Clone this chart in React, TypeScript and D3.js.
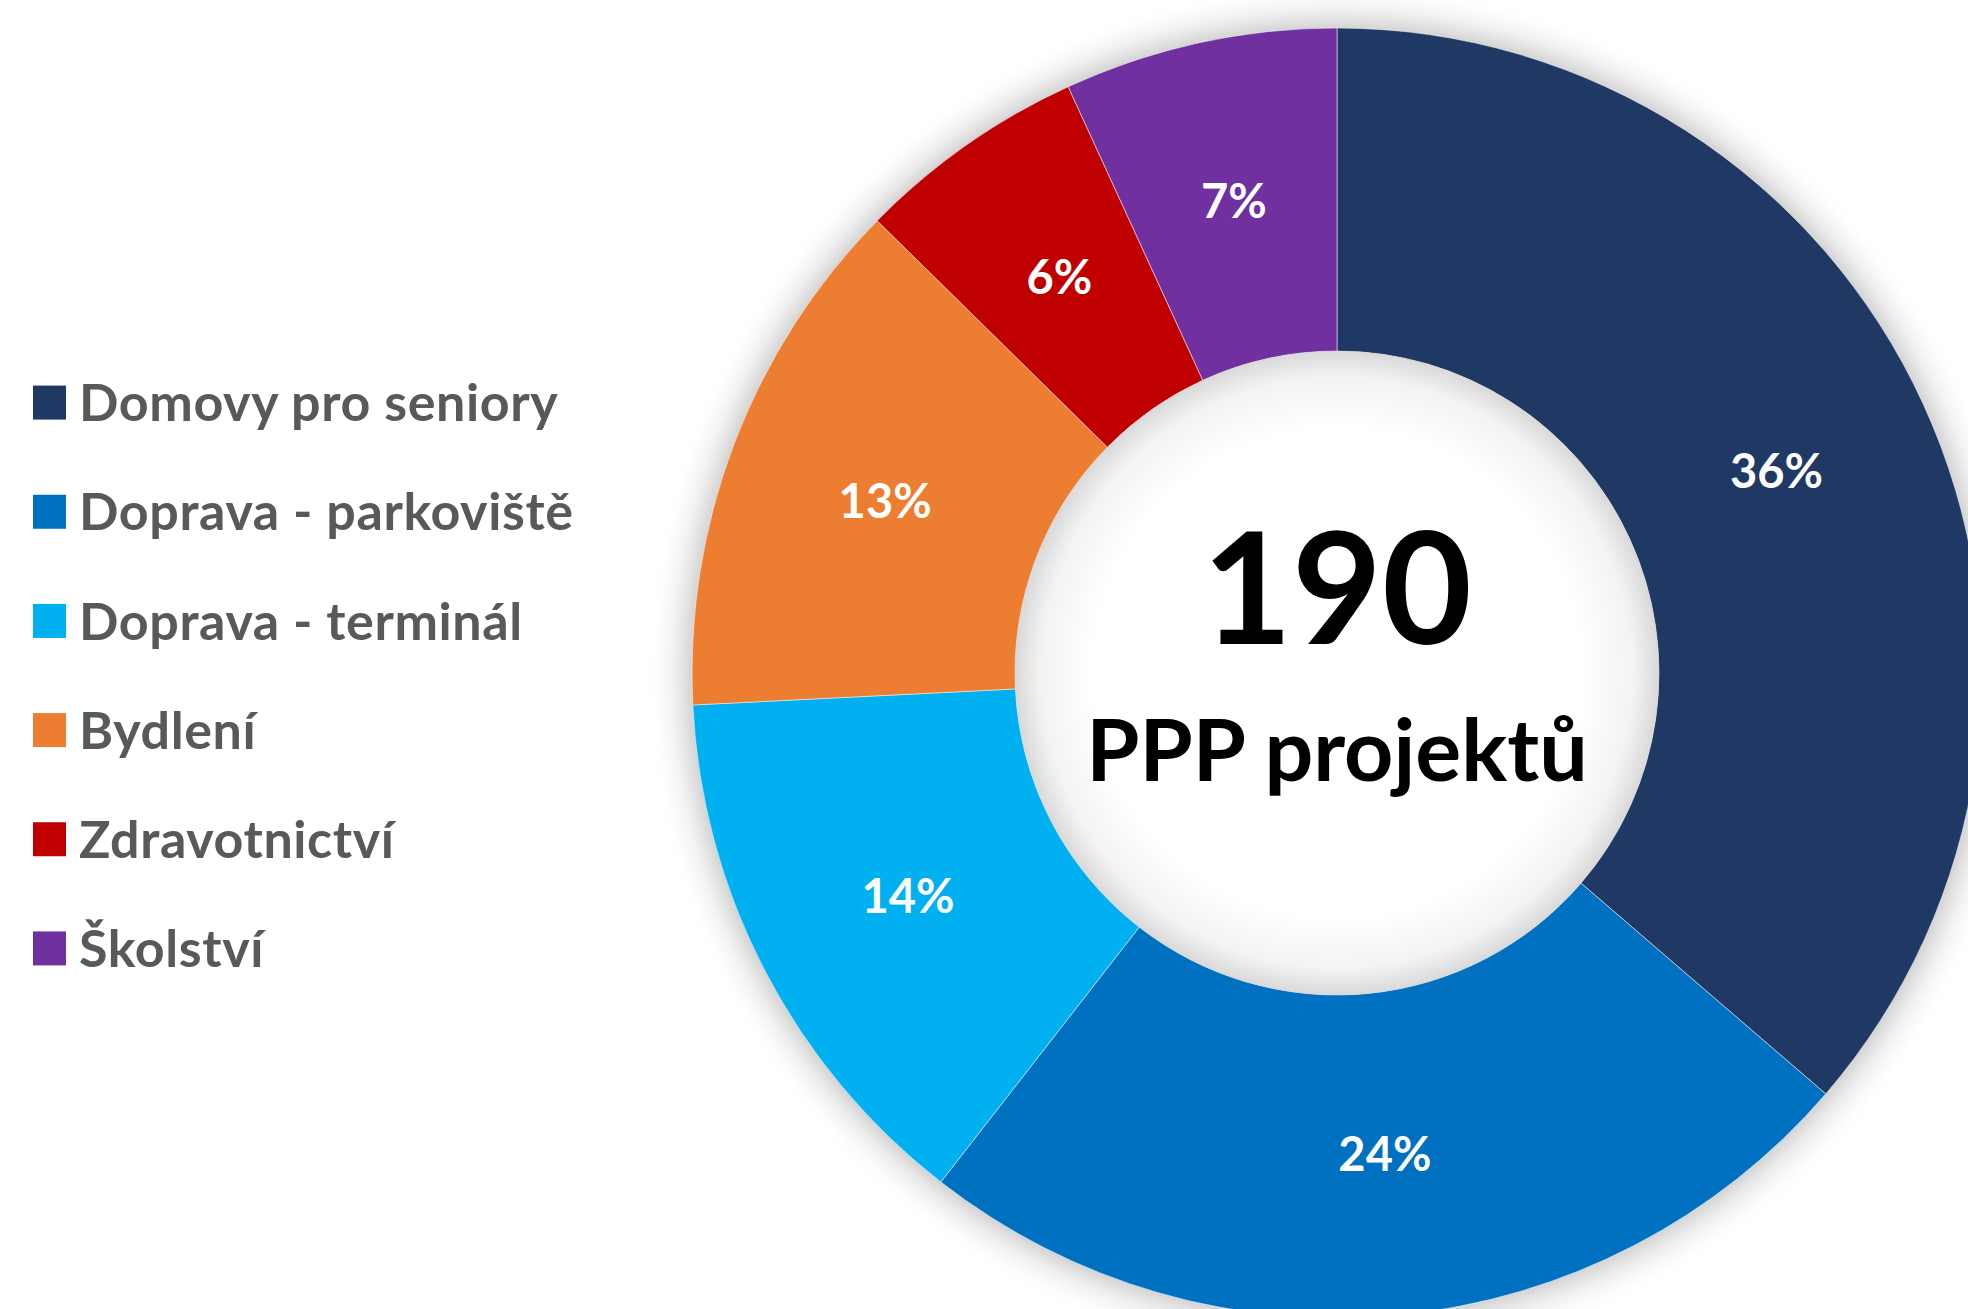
import React, { useEffect, useRef } from 'react'
import * as d3 from 'd3'

// slice data (project counts, total 190)
const categories = ['Domovy pro seniory', 'Doprava - parkoviště', 'Doprava - terminál', 'Bydlení', 'Zdravotnictví', 'Školství']
const counts = [69, 46, 26, 25, 11, 13]
const colors = ['#203864', '#0070C0', '#00B0F0', '#ED7D31', '#C00000', '#7030A0']
const centerNumber = '190'
const centerLabel = 'PPP projektů'

const W = 1968
const H = 1309
const FONT = 'Lato, "Open Sans", sans-serif'

function DonutChart() {
    const ref = useRef<SVGSVGElement | null>(null)

    useEffect(() => {
        const svg = d3.select(ref.current)
        svg.selectAll('*').remove()

        const cx = 1337, cy = 673
        const outerR = 645, innerR = 322
        const total = d3.sum(counts)

        const defs = svg.append('defs')

        // soft glow outside the ring
        const glow = defs.append('radialGradient')
            .attr('id', 'outerGlow')
            .attr('gradientUnits', 'userSpaceOnUse')
            .attr('cx', cx).attr('cy', cy).attr('r', outerR + 45)
        glow.append('stop').attr('offset', outerR / (outerR + 45)).attr('stop-color', '#d4d4d4')
        glow.append('stop').attr('offset', (outerR + 12) / (outerR + 45)).attr('stop-color', '#e8e8e8')
        glow.append('stop').attr('offset', 1).attr('stop-color', '#ffffff').attr('stop-opacity', 0)

        // inner shadow of the hole (drawn inside the translated group, so centred on 0,0)
        const hole = defs.append('radialGradient')
            .attr('id', 'holeShade')
            .attr('gradientUnits', 'userSpaceOnUse')
            .attr('cx', 0).attr('cy', 0).attr('r', innerR)
        hole.append('stop').attr('offset', 0.76).attr('stop-color', '#ffffff')
        hole.append('stop').attr('offset', 0.92).attr('stop-color', '#f3f3f3')
        hole.append('stop').attr('offset', 1).attr('stop-color', '#d9d9d9')

        svg.append('circle')
            .attr('cx', cx).attr('cy', cy).attr('r', outerR + 45)
            .attr('fill', 'url(#outerGlow)')

        const pie = d3.pie<number>().sort(null).value(d => d)
        const arcs = pie(counts)
        const arc = d3.arc<d3.PieArcDatum<number>>().innerRadius(innerR).outerRadius(outerR)

        const g = svg.append('g').attr('transform', `translate(${cx},${cy})`)

        g.selectAll('path.slice')
            .data(arcs)
            .join('path')
            .attr('class', 'slice')
            .attr('d', arc)
            .attr('fill', (d, i) => colors[i])
            .attr('stroke', '#ffffff')
            .attr('stroke-opacity', 0.5)
            .attr('stroke-width', 1)

        g.append('circle')
            .attr('r', innerR)
            .attr('fill', 'url(#holeShade)')

        // percentage labels at slice centroids
        g.selectAll('text.pct')
            .data(arcs)
            .join('text')
            .attr('class', 'pct')
            .attr('transform', d => `translate(${arc.centroid(d)})`)
            .attr('text-anchor', 'middle')
            .attr('dy', '0.36em')
            .attr('fill', '#ffffff')
            .attr('font-family', FONT)
            .attr('font-weight', 700)
            .attr('font-size', 47)
            .text(d => `${Math.round(d.value / total * 100)}%`)

        g.append('text')
            .attr('text-anchor', 'middle')
            .attr('y', -29)
            .attr('fill', '#000000')
            .attr('font-family', FONT)
            .attr('font-weight', 700)
            .attr('font-size', 155)
            .text(centerNumber)

        g.append('text')
            .attr('text-anchor', 'middle')
            .attr('y', 108)
            .attr('fill', '#000000')
            .attr('font-family', FONT)
            .attr('font-weight', 700)
            .attr('font-size', 86)
            .text(centerLabel)

        // legend
        const y = d3.scaleBand<string>()
            .domain(categories)
            .range([348, 1003])

        const legend = svg.append('g')
        const items = legend.selectAll('g')
            .data(categories)
            .join('g')
            .attr('transform', d => `translate(0,${(y(d) || 0) + y.bandwidth() / 2})`)

        items.append('rect')
            .attr('x', 33)
            .attr('y', -17)
            .attr('width', 33)
            .attr('height', 34)
            .attr('fill', (d, i) => colors[i])

        items.append('text')
            .attr('x', 79)
            .attr('dy', '0.36em')
            .attr('fill', '#595959')
            .attr('font-family', FONT)
            .attr('font-weight', 700)
            .attr('font-size', 52)
            .attr('letter-spacing', 0.6)
            .text(d => d)
    }, [])

    return (
        <svg ref={ref} width={W} height={H}
            style={{ position: 'absolute', left: 0, top: 0, background: '#ffffff' }} />
    )
}

export default function App() {
    return <DonutChart />
}
